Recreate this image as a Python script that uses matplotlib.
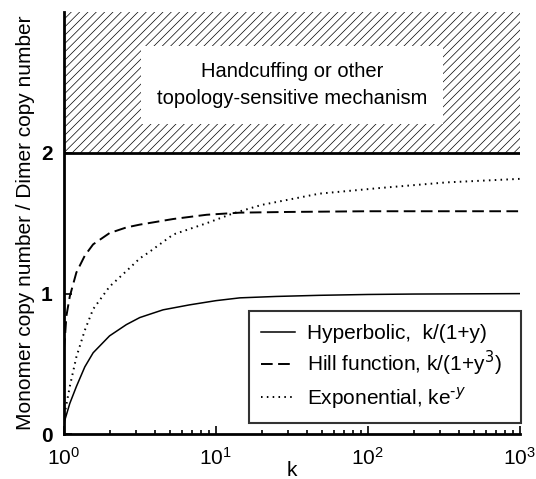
import numpy as np
import matplotlib
matplotlib.use("Agg")
import matplotlib.pyplot as plt

plt.rcParams['font.family'] = ['Liberation Sans', 'DejaVu Sans']
plt.rcParams['hatch.linewidth'] = 0.5

# values
k_hyp = [1.0, 1.015, 1.095, 1.21, 1.375, 1.56, 2.0, 2.58, 3.16, 3.59, 4.5, 6.7,
         10, 14.4, 25, 48, 100, 200, 1000]
y_hyp = [0.055, 0.10, 0.22, 0.34, 0.48, 0.58, 0.70, 0.78, 0.83, 0.85, 0.885, 0.92,
         0.95, 0.97, 0.98, 0.988, 0.994, 0.997, 1.0]

k_hill = [1.0, 1.015, 1.04, 1.095, 1.21, 1.375, 1.56, 2.0, 2.58, 3.16, 3.59, 5.25,
          8.7, 14.4, 30, 100, 1000]
y_hill = [0.6, 0.67, 0.84, 0.98, 1.15, 1.27, 1.35, 1.43, 1.47, 1.49, 1.50, 1.53,
          1.56, 1.575, 1.58, 1.585, 1.585]

k_exp = [1.0, 1.015, 1.095, 1.21, 1.375, 1.56, 2.0, 2.58, 3.16, 3.59, 5.25, 8.7,
         13, 20, 48, 120, 330, 1000]
y_exp = [0.055, 0.15, 0.34, 0.55, 0.74, 0.89, 1.05, 1.16, 1.25, 1.29, 1.42, 1.50,
         1.57, 1.63, 1.71, 1.75, 1.79, 1.815]

labels = ['Hyperbolic,  k/(1+y)  ', 'Hill function, k/(1+y$^3$)  ',
          'Exponential, ke$^{\\mathrm{\u2010}y}$  ']
box_text = 'Handcuffing or other\ntopology-sensitive mechanism'

fig = plt.figure(figsize=(5.36, 4.79), dpi=100)
ax = fig.add_axes([0.119, 0.093, 0.851, 0.882])

# hatched region above 2
ax.axhspan(2, 3, facecolor='white', edgecolor='black', hatch='////', linewidth=0)
ax.axhline(2, color='black', lw=2)

ax.plot(k_hyp, y_hyp, color='black', lw=1.1, ls='-', label=labels[0])
ax.plot(k_hill, y_hill, color='black', lw=1.4, ls=(0, (6, 2.8)), label=labels[1])
ax.plot(k_exp, y_exp, color='black', lw=1.4, ls=(0, (0.8, 2.2)), label=labels[2])

ax.text(0.5, 0.827, box_text, transform=ax.transAxes, ha='center', va='center',
        fontsize=14.5, linespacing=1.5,
        bbox=dict(boxstyle='square,pad=0.8', facecolor='white', edgecolor='none'))

ax.set_xscale('log')
ax.set_xlim(1, 1000)
ax.set_ylim(0, 3)
ax.set_yticks([0, 1, 2])
ax.set_yticklabels(['0', '1', '2'], fontweight='bold')

for s in ['top', 'right']:
    ax.spines[s].set_visible(False)
for s in ['left', 'bottom']:
    ax.spines[s].set_linewidth(2)

ax.tick_params(which='both', direction='in', labelsize=15, width=1.2)
ax.tick_params(which='major', length=6)
ax.tick_params(which='minor', length=3)
ax.tick_params(axis='x', pad=9)
ax.tick_params(axis='y', pad=8)

ax.set_xlabel('k', fontsize=15, labelpad=-6)
ax.set_ylabel('Monomer copy number / Dimer copy number', fontsize=15, labelpad=4)

leg = ax.legend(loc='lower right', bbox_to_anchor=(1.003, 0.027), fontsize=15,
                frameon=True, fancybox=False, edgecolor='black', handlelength=1.6,
                borderpad=0.6, labelspacing=0.3, handletextpad=0.6,
                borderaxespad=0)
leg.get_frame().set_linewidth(1.5)

fig.savefig('out.png', dpi=100)
